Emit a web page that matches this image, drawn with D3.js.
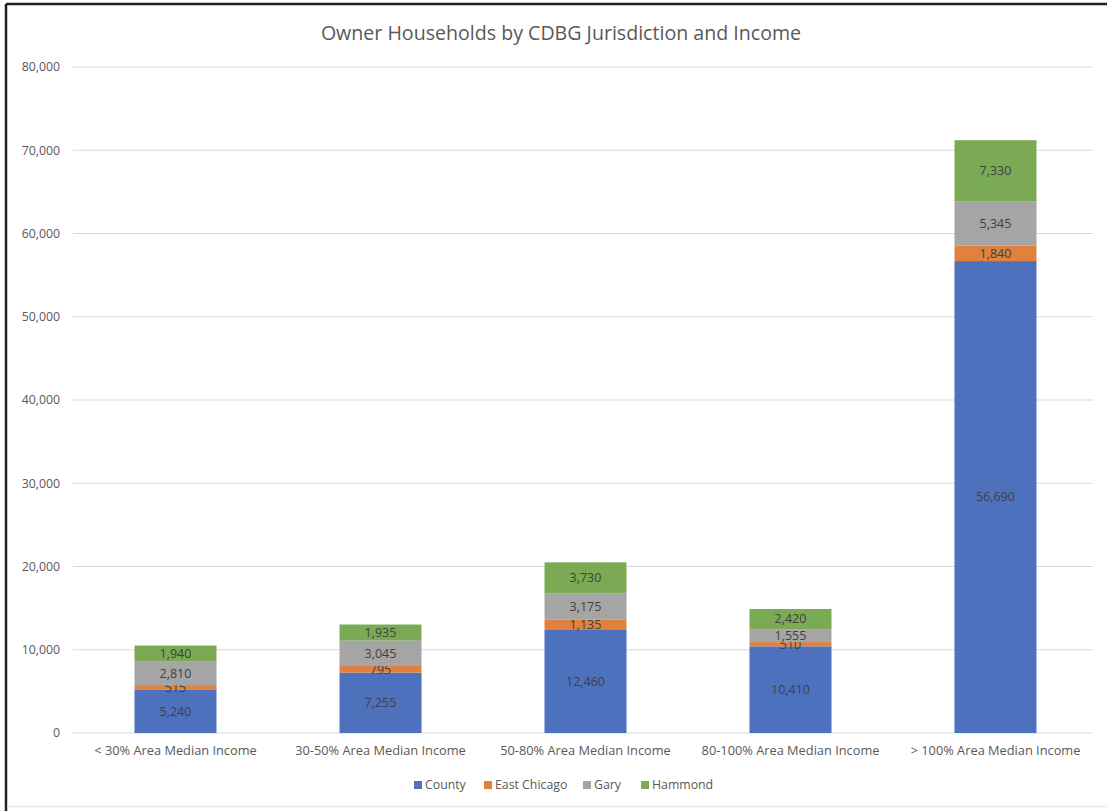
<!DOCTYPE html>
<html>
<head>
<meta charset="utf-8">
<script src="https://cdn.jsdelivr.net/npm/d3@7"></script>
<style>
  body { margin: 0; background: #fff; }
  #chart { width: 1107px; height: 811px; }
  text { font-family: "Open Sans", "Lato", sans-serif; }
</style>
</head>
<body>
<div id="chart"></div>
<script>
// chart data
const categories = [
  "< 30% Area Median Income",
  "30-50% Area Median Income",
  "50-80% Area Median Income",
  "80-100% Area Median Income",
  "> 100% Area Median Income",
];
const seriesNames = ["County", "East Chicago", "Gary", "Hammond"];
const county = [5240, 7255, 12460, 10410, 56690];
const eastChicago = [515, 795, 1135, 510, 1840];
const gary = [2810, 3045, 3175, 1555, 5345];
const hammond = [1940, 1935, 3730, 2420, 7330];
const yTicks = [0, 10000, 20000, 30000, 40000, 50000, 60000, 70000, 80000];

const colors = ["#4e71be", "#e0823d", "#a5a5a5", "#7aab54"];

// build rows for the stack
const rows = categories.map((c, i) => ({
  category: c,
  County: county[i],
  "East Chicago": eastChicago[i],
  Gary: gary[i],
  Hammond: hammond[i],
}));

const width = 1107;
const height = 811;
const marginLeft = 73;
const marginRight = 9;
const marginTop = 67;
const plotBottom = 733;

const svg = d3.select("#chart")
  .append("svg")
  .attr("width", width)
  .attr("height", height);

// frame of the screenshot
svg.append("line").attr("x1", 6).attr("x2", width).attr("y1", 4).attr("y2", 4)
  .attr("stroke", "#222").attr("stroke-width", 2.5);
svg.append("line").attr("x1", 6).attr("x2", 6).attr("y1", 4).attr("y2", height)
  .attr("stroke", "#222").attr("stroke-width", 2.5);
svg.append("line").attr("x1", 7).attr("x2", width).attr("y1", 806.5).attr("y2", 806.5)
  .attr("stroke", "#e6e6e6").attr("stroke-width", 1.5);

// scales
const x = d3.scaleBand()
  .domain(categories)
  .range([marginLeft, width - marginRight])
  .paddingInner(0.6)
  .paddingOuter(0.3);

const y = d3.scaleLinear()
  .domain([0, 80000])
  .range([plotBottom, marginTop]);

// gridlines
svg.append("g")
  .selectAll("line")
  .data(yTicks)
  .join("line")
  .attr("x1", marginLeft)
  .attr("x2", width - marginRight - 5)
  .attr("y1", (d) => y(d))
  .attr("y2", (d) => y(d))
  .attr("stroke", "#d9d9d9")
  .attr("stroke-width", 1);

// y axis
const yAxis = d3.axisLeft(y)
  .tickValues(yTicks)
  .tickSize(0)
  .tickPadding(13)
  .tickFormat(d3.format(","));

svg.append("g")
  .attr("transform", `translate(${marginLeft},0)`)
  .call(yAxis)
  .call((g) => g.select(".domain").remove())
  .selectAll("text")
  .attr("fill", "#595959")
  .style("font-size", "12.3px");

// x axis
const xAxis = d3.axisBottom(x).tickSize(0).tickPadding(13);
svg.append("g")
  .attr("transform", `translate(0,${plotBottom})`)
  .call(xAxis)
  .call((g) => g.select(".domain").remove())
  .selectAll("text")
  .attr("fill", "#595959")
  .style("font-size", "12.8px");

// stacked bars
const stack = d3.stack().keys(seriesNames);
const layers = stack(rows);

const layerG = svg.append("g")
  .selectAll("g")
  .data(layers)
  .join("g")
  .attr("fill", (d, i) => colors[i]);

layerG.selectAll("rect")
  .data((d) => d)
  .join("rect")
  .attr("x", (d) => x(d.data.category))
  .attr("width", x.bandwidth())
  .attr("y", (d) => y(d[1]))
  .attr("height", (d) => y(d[0]) - y(d[1]));

// data labels
layerG.selectAll("text")
  .data((d) => d)
  .join("text")
  .attr("x", (d) => x(d.data.category) + x.bandwidth() / 2)
  .attr("y", (d) => (y(d[0]) + y(d[1])) / 2)
  .attr("dy", "0.35em")
  .attr("text-anchor", "middle")
  .attr("fill", "#404040")
  .style("font-size", "12.5px")
  .text((d) => d3.format(",")(d[1] - d[0]));

// title
svg.append("text")
  .attr("x", 561)
  .attr("y", 40)
  .attr("text-anchor", "middle")
  .attr("fill", "#595959")
  .style("font-size", "19.6px")
  .text("Owner Households by CDBG Jurisdiction and Income");

// legend
const legendX = [414, 484, 583, 641];
const legend = svg.append("g")
  .selectAll("g")
  .data(seriesNames)
  .join("g")
  .attr("transform", (d, i) => `translate(${legendX[i]},785)`);

legend.append("rect")
  .attr("x", 0)
  .attr("y", -4)
  .attr("width", 8)
  .attr("height", 8)
  .attr("fill", (d, i) => colors[i]);

legend.append("text")
  .attr("x", 11)
  .attr("dy", "0.35em")
  .attr("fill", "#595959")
  .style("font-size", "12.3px")
  .text((d) => d);
</script>
</body>
</html>
